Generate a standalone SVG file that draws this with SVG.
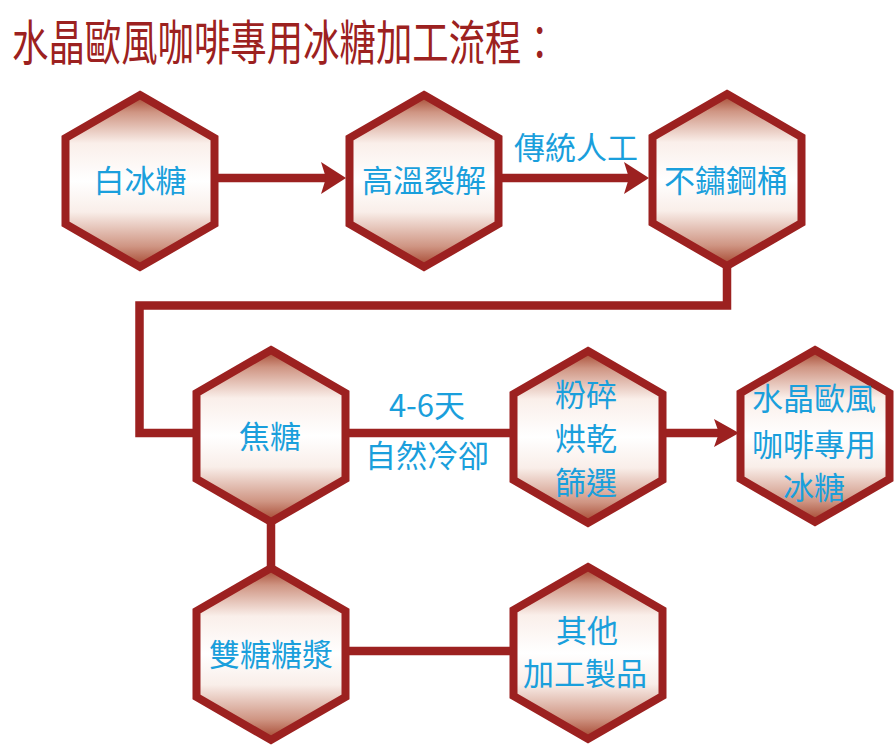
<svg xmlns="http://www.w3.org/2000/svg" xmlns:xlink="http://www.w3.org/1999/xlink" width="895" height="745" viewBox="0 0 895 745">
<style>
.hex{fill:url(#hg);stroke:#9c2120;stroke-width:8;stroke-linejoin:miter}
.con{fill:none;stroke:#9c2120;stroke-width:8.5;stroke-linejoin:miter}
.ah{fill:#9c2120}
.t{font-family:"Noto Sans CJK TC","Noto Sans CJK SC",sans-serif;font-size:31px;fill:#1a9fdc;text-anchor:middle}
.title{font-family:"Noto Sans CJK TC","Noto Sans CJK SC",sans-serif;font-size:36.4px;fill:#9c2120}
</style>
<defs>
<linearGradient id="hg" x1="0" y1="0" x2="0" y2="1">
<stop offset="0" stop-color="#a3432c"/>
<stop offset="0.1" stop-color="#cf9583"/>
<stop offset="0.28" stop-color="#faefea"/>
<stop offset="0.5" stop-color="#ffffff"/>
<stop offset="0.68" stop-color="#f9eee9"/>
<stop offset="0.88" stop-color="#cf9583"/>
<stop offset="1" stop-color="#a3432c"/>
</linearGradient>
<polygon id="hex" points="0,-86 74.5,-43 74.5,43 0,86 -74.5,43 -74.5,-43"/>
</defs>
<rect width="895" height="745" fill="#ffffff"/>
<text class="title" x="12" y="46.2" transform="scale(1,1.3)">水晶歐風咖啡專用冰糖加工流程：</text>
<g id="connectors">
<line class="con" x1="218" y1="178" x2="330" y2="178"/>
<polygon class="ah" points="346,178 321,162 326,178 321,194"/>
<line class="con" x1="502" y1="178" x2="632" y2="178"/>
<polygon class="ah" points="649,178 624,162 629,178 624,194"/>
<polyline class="con" points="727,266 727,305.5 139.5,305.5 139.5,433 194,433"/>
<line class="con" x1="349" y1="433" x2="510" y2="433"/>
<line class="con" x1="665" y1="433" x2="722" y2="433"/>
<polygon class="ah" points="739,433 714,419 719,433 714,447"/>
<line class="con" x1="271" y1="522" x2="271" y2="568"/>
<line class="con" x1="349" y1="651" x2="511" y2="651"/>
<text class="t" x="576" y="159">傳統人工</text>
<text class="t" x="427" y="417">4-6天</text>
<text class="t" x="427" y="467">自然冷卻</text>
</g>
<g id="n1"><use xlink:href="#hex" class="hex" x="140" y="181"/><text class="t" x="140" y="192">白冰糖</text></g>
<g id="n2"><use xlink:href="#hex" class="hex" x="424" y="181"/><text class="t" x="424" y="192">高溫裂解</text></g>
<g id="n3"><use xlink:href="#hex" class="hex" x="727" y="180"/><text class="t" x="726" y="192">不鏽鋼桶</text></g>
<g id="n4"><use xlink:href="#hex" class="hex" x="271" y="436"/><text class="t" x="270" y="448">焦糖</text></g>
<g id="n5"><use xlink:href="#hex" class="hex" x="588" y="437"/><text class="t" x="586" y="406">粉碎</text><text class="t" x="586" y="450">烘乾</text><text class="t" x="586" y="494">篩選</text></g>
<g id="n6"><use xlink:href="#hex" class="hex" x="815" y="436"/><text class="t" x="814" y="410">水晶歐風</text><text class="t" x="814" y="456">咖啡專用</text><text class="t" x="814" y="499">冰糖</text></g>
<g id="n7"><use xlink:href="#hex" class="hex" x="271" y="654"/><text class="t" x="271" y="666">雙糖糖漿</text></g>
<g id="n8"><use xlink:href="#hex" class="hex" x="588" y="653"/><text class="t" x="587" y="642">其他</text><text class="t" x="585" y="685">加工製品</text></g>
</svg>
